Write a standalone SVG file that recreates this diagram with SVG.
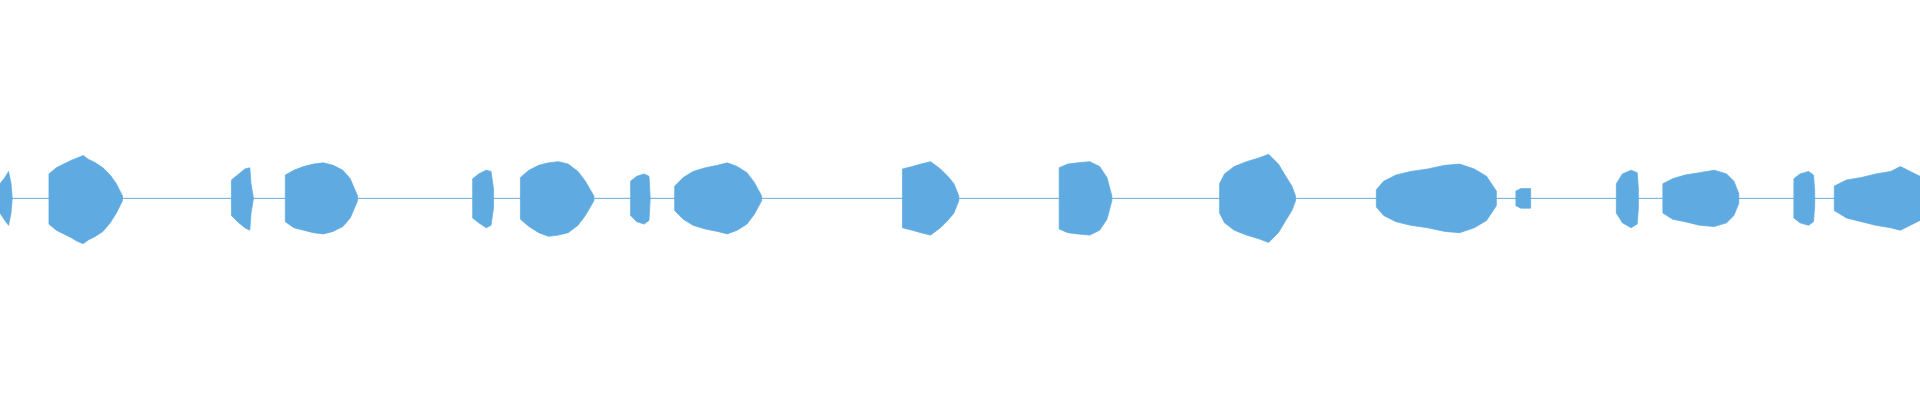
<svg xmlns="http://www.w3.org/2000/svg" width="1920" height="400" viewBox="0 0 1920 400">
<style>.b{fill:#5eaae1;stroke:#5eaae1;stroke-width:0.6;stroke-linejoin:miter}.l{stroke:#5eaae1;stroke-width:0.8}</style>
<rect width="1920" height="400" fill="#fff"/>
<g transform="scale(1.2245)">
<line class="l" x1="0" y1="162" x2="1568" y2="162"/>
<path class="b" d="M0,150 L4,145 L7,140 L9,150 L10,162 L9,174 L7,184 L4,180 L0,174Z"/>
<path class="b" d="M40,142 L46,137 L52,134 L58,131 L63,129 L68,127 L72,130 L78,133 L84,137 L90,143 L95,150 L100,160 L100,164 L95,174 L90,182 L84,189 L78,193 L72,196 L68,199 L63,197 L58,194 L52,191 L46,188 L40,183Z"/>
<path class="b" d="M189,147 L194,143 L200,138 L204,137 L205,150 L207,162 L205,174 L204,188 L200,186 L194,181 L189,176Z"/>
<path class="b" d="M233,143 L240,139 L248,136 L256,134 L264,133 L272,135 L280,139 L286,146 L292,160 L292,164 L286,178 L280,185 L272,189 L264,191 L256,190 L248,188 L240,186 L233,181Z"/>
<path class="b" d="M386,146 L391,142 L397,139 L401,140 L403,154 L403,170 L401,184 L397,186 L391,182 L386,178Z"/>
<path class="b" d="M425,145 L432,139 L440,135 L448,133 L456,132 L464,134 L472,140 L478,148 L485,160 L485,164 L478,176 L472,184 L464,190 L456,192 L448,193 L440,190 L432,185 L425,179Z"/>
<path class="b" d="M515,148 L520,144 L526,142 L530,144 L531,162 L530,180 L526,183 L520,181 L515,176Z"/>
<path class="b" d="M551,152 L558,145 L566,140 L576,137 L586,135 L594,133 L602,136 L610,141 L616,149 L622,160 L622,164 L616,175 L610,183 L602,188 L594,191 L586,189 L576,187 L566,184 L558,179 L551,172Z"/>
<path class="b" d="M737,138 L745,136 L752,134 L760,132 L768,138 L774,144 L779,150 L783,160 L783,164 L779,174 L774,180 L768,186 L760,192 L752,190 L745,188 L737,186Z"/>
<path class="b" d="M865,137 L872,134 L880,133 L890,132 L898,136 L904,145 L908,160 L908,164 L904,179 L898,188 L890,192 L880,191 L872,190 L865,187Z"/>
<path class="b" d="M996,150 L1000,142 L1008,136 L1018,132 L1028,129 L1036,126 L1044,134 L1050,144 L1055,152 L1058,160 L1058,164 L1055,172 L1050,180 L1044,190 L1036,198 L1028,195 L1018,192 L1008,188 L1000,182 L996,174Z"/>
<path class="b" d="M1124,155 L1130,148 L1140,143 L1152,140 L1166,138 L1180,135 L1192,134 L1204,138 L1214,144 L1222,156 L1222,168 L1214,180 L1204,186 L1192,190 L1180,189 L1166,186 L1152,184 L1140,181 L1130,176 L1124,169Z"/>
<path class="b" d="M1238,156 L1242,154 L1250,154 L1250,170 L1242,170 L1238,168Z"/>
<path class="b" d="M1320,150 L1325,142 L1332,139 L1337,141 L1338,154 L1338,170 L1337,183 L1332,186 L1325,182 L1320,174Z"/>
<path class="b" d="M1358,150 L1366,146 L1376,143 L1388,141 L1400,139 L1410,142 L1416,148 L1420,158 L1420,166 L1416,176 L1410,182 L1400,185 L1388,184 L1376,181 L1366,179 L1358,174Z"/>
<path class="b" d="M1465,146 L1470,142 L1477,140 L1481,143 L1482,156 L1482,168 L1481,181 L1477,184 L1470,182 L1465,178Z"/>
<path class="b" d="M1498,152 L1508,147 L1520,145 L1532,142 L1544,140 L1552,136 L1560,140 L1568,144 L1568,180 L1560,184 L1552,188 L1544,186 L1532,184 L1520,181 L1508,178 L1498,172Z"/>
</g>
</svg>
